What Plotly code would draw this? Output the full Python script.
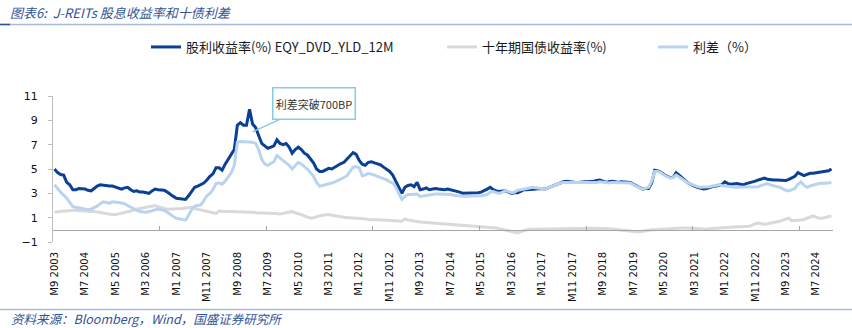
import plotly.graph_objects as go

# ---------------- data ----------------
tick_labels = ["M9 2003", "M7 2004", "M5 2005", "M3 2006", "M1 2007", "M11 2007",
               "M9 2008", "M7 2009", "M5 2010", "M3 2011", "M1 2012", "M11 2012",
               "M9 2013", "M7 2014", "M5 2015", "M3 2016", "M1 2017", "M11 2017",
               "M9 2018", "M7 2019", "M5 2020", "M3 2021", "M1 2022", "M11 2022",
               "M9 2023", "M7 2024"]

# 股利收益率(%) EQY_DVD_YLD_12M (monthly, from M9 2003)
dividend_yield = [
    5.0, 4.7, 4.55, 4.5, 3.9, 3.7, 3.3, 3.3, 3.4, 3.4,
    3.35, 3.25, 3.2, 3.4, 3.6, 3.7, 3.65, 3.6, 3.6,
    3.6, 3.5, 3.4, 3.35, 3.45, 3.5, 3.3, 3.15, 3.2, 3.1,
    3.1, 3.05, 3.0, 3.2, 3.35, 3.3, 3.25, 3.25, 3.1, 2.9,
    2.75, 2.6, 2.55, 2.5, 2.5, 2.8, 3.15, 3.5, 3.6, 3.7,
    3.85, 4.1, 4.4, 4.6, 5.1, 5.1, 4.9, 5.4, 5.8, 6.1,
    6.6, 8.6, 8.8, 8.6, 8.6, 9.9, 8.7, 8.4, 7.8, 7.1,
    6.9, 6.7, 6.8, 6.9, 7.4, 7.1, 7.0, 7.1, 6.8, 6.3,
    6.6, 6.8, 6.6, 6.3, 6.15, 5.8, 5.5, 5.0, 4.8, 4.8,
    4.95, 5.05, 5.0, 5.15, 5.35, 5.45, 5.55, 5.8, 6.1, 6.35,
    6.2, 5.7, 5.4, 5.3, 5.55, 5.6, 5.5, 5.45, 5.35, 5.15,
    4.95, 4.8, 4.5, 4.0, 3.5, 3.0, 3.5, 3.65, 3.7, 3.55,
    3.9, 3.3, 3.35, 3.45, 3.3, 3.35, 3.4, 3.35, 3.3, 3.3,
    3.35, 3.3, 3.25, 3.2, 3.1, 3.0, 3.0, 3.0, 3.0, 3.0,
    3.05, 3.1, 3.2, 3.35, 3.5, 3.3, 3.2, 3.15, 3.2, 3.2,
    3.1, 3.0, 3.05, 3.05, 3.15, 3.3, 3.3, 3.3, 3.3, 3.35,
    3.4, 3.4, 3.35, 3.45, 3.55, 3.7, 3.8, 3.9, 3.95, 4.0,
    3.95, 3.95, 3.9, 3.9, 3.95, 3.95, 3.95, 3.95, 4.0,
    4.05, 4.1, 4.0, 3.9, 3.95, 4.0, 3.95, 3.9, 3.95, 3.95,
    3.9, 3.9, 3.75, 3.6, 3.45, 3.35, 3.4, 3.4, 3.85, 4.9,
    4.85, 4.75, 4.55, 4.4, 4.3, 4.3, 4.7, 4.5, 4.25, 4.05,
    3.85, 3.7, 3.6, 3.5, 3.4, 3.35, 3.4, 3.5, 3.55, 3.6,
    3.65, 3.7, 3.95, 3.8, 3.75, 3.8, 3.8, 3.75, 3.7, 3.8,
    3.85, 3.9, 4.0, 4.1, 4.2, 4.25, 4.15, 4.1, 4.1, 4.1,
    4.1, 4.05, 4.05, 4.15, 4.25, 4.4, 4.7, 4.55, 4.45, 4.55,
    4.65, 4.65, 4.7, 4.7, 4.75, 4.8, 4.85, 5.0,
]

# 十年期国债收益率(%)
bond_yield = [
    1.45, 1.5, 1.5, 1.55, 1.55, 1.6, 1.6, 1.6, 1.55, 1.55,
    1.55, 1.5, 1.5, 1.5, 1.45, 1.4, 1.4, 1.35, 1.3,
    1.25, 1.25, 1.3, 1.35, 1.45, 1.5, 1.55, 1.65, 1.7, 1.75,
    1.85, 1.9, 1.95, 2.0, 2.0, 1.9, 1.8, 1.75, 1.7, 1.7,
    1.7, 1.7, 1.7, 1.75, 1.8, 1.85, 1.85, 1.75, 1.7, 1.6,
    1.55, 1.5, 1.45, 1.4, 1.35, 1.55, 1.5, 1.5, 1.5, 1.5,
    1.5, 1.5, 1.45, 1.45, 1.45, 1.45, 1.45, 1.4, 1.4, 1.4,
    1.35, 1.35, 1.35, 1.35, 1.35, 1.3, 1.35, 1.4, 1.45, 1.5,
    1.4, 1.35, 1.25, 1.15, 1.05, 0.95, 1.0, 1.1, 1.15, 1.2,
    1.25, 1.25, 1.2, 1.15, 1.1, 1.05, 1.05, 1.0, 1.0, 0.95,
    0.95, 0.95, 0.95, 0.9, 0.85, 0.85, 0.8, 0.8, 0.8, 0.8,
    0.78, 0.75, 0.75, 0.75, 0.72, 0.7, 0.9, 0.8, 0.75, 0.7,
    0.65, 0.65, 0.62, 0.6, 0.6, 0.58, 0.55, 0.52, 0.5, 0.5,
    0.48, 0.45, 0.42, 0.4, 0.4, 0.4, 0.35, 0.32, 0.3, 0.28,
    0.25, 0.25, 0.22, 0.2, 0.18, 0.15, 0.15, 0.1, 0.05, 0.0,
    -0.08, -0.15, -0.2, -0.25, -0.15, -0.05, 0.0, 0.05, 0.05, 0.05,
    0.05, 0.05, 0.05, 0.05, 0.08, 0.08, 0.08, 0.1, 0.1, 0.1,
    0.1, 0.1, 0.08, 0.08, 0.1, 0.12, 0.12, 0.15, 0.15,
    0.15, 0.15, 0.12, 0.1, 0.08, 0.05, 0.02, 0.0, -0.03, -0.05,
    -0.08, -0.1, -0.15, -0.15, -0.15, -0.1, -0.05, 0.0, 0.0, 0.0,
    0.02, 0.05, 0.08, 0.1, 0.12, 0.1, 0.1, 0.12, 0.15, 0.15,
    0.15, 0.15, 0.12, 0.1, 0.08, 0.05, 0.05, 0.08, 0.1, 0.15,
    0.18, 0.2, 0.2, 0.2, 0.22, 0.23, 0.25, 0.25, 0.25, 0.25,
    0.3, 0.38, 0.5, 0.55, 0.48, 0.45, 0.5, 0.55, 0.6, 0.6,
    0.7, 0.8, 0.9, 0.95, 0.75, 0.75, 0.8, 0.8, 0.85, 0.95,
    1.1, 1.15, 1.05, 0.95, 0.95, 1.0, 1.1, 1.15,
]

# 利差（%）
spread = [
    3.7, 3.35, 3.1, 2.85, 2.6, 2.25, 1.9, 1.85, 1.8, 1.75,
    1.7, 1.65, 1.7, 1.8, 1.95, 2.15, 2.3, 2.25, 2.2,
    2.3, 2.3, 2.25, 2.2, 2.15, 2.0, 1.85, 1.7, 1.6, 1.5,
    1.45, 1.45, 1.5, 1.55, 1.65, 1.7, 1.65, 1.6, 1.45, 1.25,
    1.1, 0.95, 0.9, 0.85, 0.8, 1.2, 1.65, 1.95, 2.0, 2.05,
    2.4, 2.8, 3.0, 3.3, 3.8, 3.85, 3.75, 4.0, 4.35, 4.7,
    5.3, 7.2, 7.25, 7.25, 7.25, 7.25, 7.2, 7.1, 6.6, 5.8,
    5.4, 5.3, 5.45, 5.6, 6.1, 5.9, 5.75, 5.55, 5.3, 5.0,
    5.3, 5.55, 5.4, 5.2, 5.0, 4.7, 4.4, 3.9, 3.6, 3.65,
    3.7, 3.75, 3.85, 3.95, 4.05, 4.15, 4.3, 4.45, 4.8, 5.15,
    5.2, 5.1, 4.45, 4.5, 4.65, 4.6, 4.5, 4.4, 4.3, 4.25,
    4.1, 3.95, 3.85, 3.5, 3.0, 2.5, 2.75, 2.9, 2.9, 2.9,
    2.95, 2.75, 2.8, 2.85, 2.9, 2.95, 2.95, 2.95, 2.95, 2.9,
    2.9, 2.9, 2.85, 2.8, 2.8, 2.75, 2.75, 2.75, 2.75, 2.75,
    2.75, 2.8, 2.85, 2.9, 3.1, 3.15, 3.05, 3.0, 3.1, 3.2,
    3.15, 3.05, 3.1, 3.25, 3.3, 3.35, 3.4, 3.45, 3.5, 3.45,
    3.4, 3.35, 3.35, 3.45, 3.55, 3.7, 3.8, 3.85, 3.9, 3.9,
    3.85, 3.85, 3.85, 3.85, 3.85, 3.85, 3.85, 3.85, 3.9,
    3.9, 3.95, 3.9, 3.85, 3.85, 3.9, 3.9, 3.85, 3.9, 3.9,
    3.85, 3.85, 3.7, 3.55, 3.45, 3.35, 3.4, 3.5, 4.0, 4.8,
    4.8, 4.7, 4.5, 4.35, 4.25, 4.3, 4.5, 4.35, 4.15, 4.0,
    3.85, 3.75, 3.6, 3.55, 3.5, 3.5, 3.5, 3.55, 3.6, 3.65,
    3.7, 3.65, 3.6, 3.55, 3.55, 3.5, 3.5, 3.5, 3.5, 3.5,
    3.5, 3.5, 3.55, 3.55, 3.65, 3.75, 3.8, 3.7, 3.6, 3.55,
    3.5, 3.35, 3.25, 3.2, 3.3, 3.4, 3.75, 3.95, 3.65, 3.5,
    3.6, 3.7, 3.75, 3.8, 3.8, 3.85, 3.85, 3.9,
]

series_names = ["股利收益率(%) EQY_DVD_YLD_12M", "十年期国债收益率(%)", "利差（%）"]
series_colors = ["#0B3F94", "#D9D9D9", "#BAD4EF"]
y_ticks = [-1, 1, 3, 5, 7, 9, 11]
note_text = "利差突破700BP"

# ---------------- geometry helpers ----------------
W, H = 852, 328
ML, MR, MT, MB = 53, 19, 96, 86
PW, PH = W - ML - MR, H - MT - MB


def px_x(p):
    return (p - ML) / PW


def px_y(q):
    return (H - MB - q) / PH


n = len(dividend_yield)
x_idx = list(range(n))
label_pos = x_idx[::10][:len(tick_labels)]
tick_mark_pos = [i - 0.5 for i in x_idx[35::35]]

fig = go.Figure()
for name, vals, col, lg in zip(series_names, [dividend_yield, bond_yield, spread],
                               series_colors, ["legend", "legend2", "legend3"]):
    fig.add_trace(go.Scatter(x=x_idx, y=vals, mode="lines", name=name,
                             line=dict(color=col, width=3), legend=lg,
                             hoverinfo="skip"))

# helper trace so the zero-crossing axis is drawn
fig.add_trace(go.Scatter(x=[x_idx[0]], y=[None], xaxis="x2", showlegend=False,
                         hoverinfo="skip", mode="lines"))

legend_common = dict(orientation="h", yanchor="middle", xanchor="left",
                     y=px_y(47), bgcolor="rgba(0,0,0,0)", itemwidth=30,
                     font=dict(family="Noto Sans CJK SC, Liberation Sans", size=13,
                               color="#1a1a1a"))

fig.update_layout(
    width=W, height=H,
    margin=dict(l=ML, r=MR, t=MT, b=MB),
    paper_bgcolor="white", plot_bgcolor="white",
    showlegend=True,
    legend=dict(x=px_x(146), **legend_common),
    legend2=dict(x=px_x(442), **legend_common),
    legend3=dict(x=px_x(653), **legend_common),
    xaxis=dict(range=[-0.5, n - 0.5], tickmode="array", tickvals=label_pos,
               ticktext=tick_labels, tickangle=-90, showgrid=False, zeroline=False,
               showline=False, ticks="", ticklabelstandoff=7,
               tickfont=dict(family="DejaVu Sans", size=10, color="#111111")),
    xaxis2=dict(range=[-0.5, n - 0.5], overlaying="x", anchor="free",
                position=(0 - y_ticks[0]) / (y_ticks[-1] - y_ticks[0]),
                showline=True, linecolor="#A6A6A6", linewidth=1.2,
                tickmode="array", tickvals=tick_mark_pos, ticks="inside",
                ticklen=4, tickcolor="#A6A6A6", showticklabels=False,
                showgrid=False, zeroline=False),
    yaxis=dict(range=[y_ticks[0], y_ticks[-1]], tickmode="array", tickvals=y_ticks,
               showgrid=False, zeroline=False, showline=True, linecolor="#BFBFBF",
               linewidth=1.2, ticks="outside", ticklen=4, tickcolor="#BFBFBF",
               ticklabelstandoff=8,
               tickfont=dict(family="DejaVu Sans", size=11, color="#111111")),
    font=dict(family="Noto Sans CJK SC, Liberation Sans"),
)

# title, source, decorative rules
fig.add_annotation(xref="paper", yref="paper", x=px_x(8), y=px_y(12.5),
                   xanchor="left", yanchor="middle", showarrow=False,
                   text="<i>图表6:  J-REITs 股息收益率和十债利差</i>",
                   font=dict(family="Noto Sans CJK SC", size=13, color="#2F5597"))
fig.add_annotation(xref="paper", yref="paper", x=px_x(10), y=px_y(318.5),
                   xanchor="left", yanchor="middle", showarrow=False, borderpad=0,
                   text="<i>资料来源：Bloomberg，Wind，国盛证券研究所</i>",
                   font=dict(family="Noto Sans CJK SC", size=12.5, color="#2F5597"))
fig.add_shape(type="line", xref="paper", yref="paper", x0=px_x(0), x1=px_x(W),
              y0=px_y(24.5), y1=px_y(24.5), line=dict(color="#A9BCDC", width=1.5))
fig.add_shape(type="line", xref="paper", yref="paper", x0=px_x(0), x1=px_x(10),
              y0=px_y(24.5), y1=px_y(24.5), line=dict(color="#2F5597", width=1.5))
fig.add_shape(type="line", xref="paper", yref="paper", x0=px_x(0), x1=px_x(W),
              y0=px_y(309.5), y1=px_y(309.5), line=dict(color="#A9BCDC", width=1.5))

# callout
peak_i = max(range(n), key=lambda i: dividend_yield[i])
fig.add_annotation(x=peak_i + 1, y=8.05, xref="x", yref="y",
                   text=note_text, showarrow=True, arrowhead=0, arrowwidth=1.5,
                   arrowcolor="#86CBDD", ax=61, ay=-28,
                   bordercolor="#86CBDD", borderwidth=1.5, borderpad=1,
                   bgcolor="white", width=79, height=28,
                   font=dict(family="Noto Sans CJK SC", size=11, color="#333333"))

fig.write_html("out.html")
